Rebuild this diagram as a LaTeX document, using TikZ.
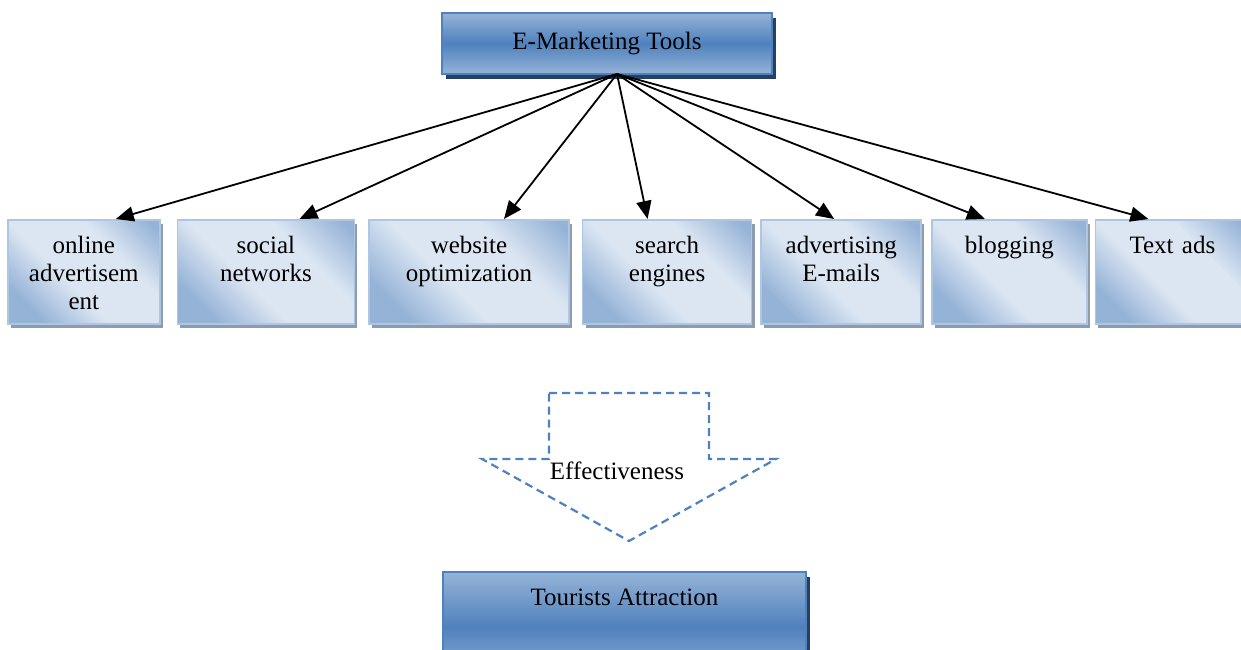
\documentclass[tikz,border=0pt]{standalone}
\usepackage{fontspec}
\setmainfont{Liberation Serif}
\usetikzlibrary{positioning, shadows, arrows.meta}

\definecolor{headlight}{RGB}{149,179,215}
\definecolor{headdark}{RGB}{79,129,189}
\definecolor{headshadow}{RGB}{38,64,98}
\definecolor{toollight}{RGB}{220,230,242}
\definecolor{tooldark}{RGB}{149,179,215}
\definecolor{toolborder}{RGB}{175,198,226}
\definecolor{toolshadow}{RGB}{140,155,176}
\definecolor{effblue}{RGB}{79,129,189}

\pgfdeclarehorizontalshading{toolshade}{100bp}{color(0bp)=(tooldark); color(25bp)=(tooldark); color(43bp)=(toollight); color(64bp)=(toollight); color(82bp)=(tooldark); color(100bp)=(tooldark)}

\tikzset{
    headbox/.style={rectangle, draw=headdark, line width=1pt, top color=headlight, bottom color=headlight, middle color=headdark, drop shadow={shadow xshift=2pt, shadow yshift=-2.5pt, fill=headshadow, opacity=1}, inner sep=0pt},
    toolbox/.style={rectangle, draw=toolborder, line width=0.8pt, shade, shading=toolshade, shading angle=45, drop shadow={shadow xshift=1.5pt, shadow yshift=-2pt, fill=toolshadow, opacity=1}, minimum height=52pt, text width=70pt, align=center, text height=12.5pt, text depth=30.5pt, inner xsep=2pt, inner ysep=4.5pt},
    arrow/.style={-{Triangle[length=9pt, width=7.5pt]}, line width=0.9pt},
    effect/.style={draw=effblue, line width=1.1pt, dash pattern=on 4pt off 2.5pt}
}

\begin{document}
\begin{tikzpicture}[x=0.5pt, y=-0.5pt, every node/.style={font=\fontsize{12.5}{14}\selectfont}]
\useasboundingbox (0,0) rectangle (1241,649);

% Top box
\node (tools) [headbox, minimum width=165pt, minimum height=30.5pt] at (607,43.5) {E-Marketing Tools};
\coordinate (hub) at (617,74);

% Tools row
\node (online) [toolbox, minimum width=76pt, anchor=north west] at (7,219) {online\\advertisem\\ent};
\node (social) [toolbox, minimum width=88.5pt, right=8pt of online] {social\\networks};
\node (website) [toolbox, minimum width=100pt, right=6.5pt of social] {website\\optimization};
\node (search) [toolbox, minimum width=84.5pt, right=6pt of website] {search\\engines};
\node (emails) [toolbox, minimum width=80pt, right=4pt of search] {advertising\\E-mails};
\node (blogging) [toolbox, minimum width=77.5pt, right=4.5pt of emails] {blogging};
\node (textads) [toolbox, minimum width=77pt, right=3.5pt of blogging] {Text ads};

% Arrows from the top box
\draw[arrow] (hub) -- ([xshift=16pt]online.north);
\draw[arrow] (hub) -- ([xshift=16.75pt]social.north);
\draw[arrow] (hub) -- ([xshift=17.5pt]website.north);
\draw[arrow] (hub) -- ([xshift=-9.75pt]search.north);
\draw[arrow] (hub) -- ([xshift=-3.5pt]emails.north);
\draw[arrow] (hub) -- ([xshift=-12.25pt]blogging.north);
\draw[arrow] (hub) -- ([xshift=-12pt]textads.north);

% Effectiveness arrow
\draw[effect] (549,393) -- (709,393) -- (709,459) -- (776,459) -- (629,541) -- (482,459) -- (549,459) -- cycle;
\node (eff) at (617,471) {Effectiveness};

% Bottom box
\node (tourists) [headbox, minimum width=181.5pt, minimum height=55pt, anchor=north west, text height=10.5pt, text depth=32.5pt, inner ysep=6pt] at (442,571) {Tourists Attraction};

\end{tikzpicture}
\end{document}
